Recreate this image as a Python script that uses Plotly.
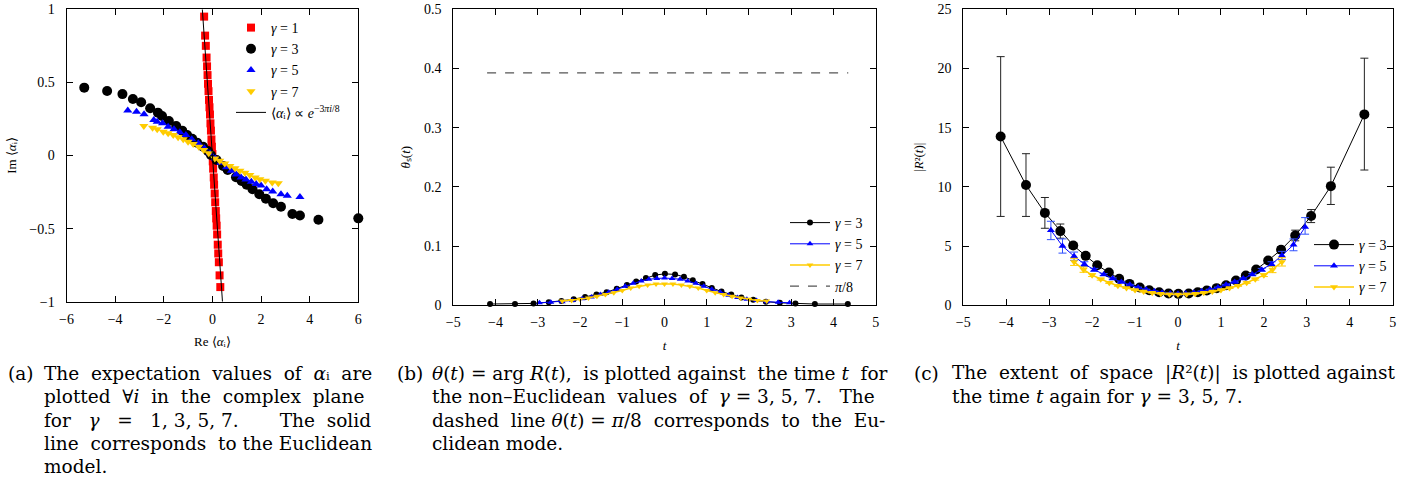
import math
import plotly.graph_objects as go

# ---------------- data: panel (a) ----------------
a1_re = [-0.34, -0.30, -0.27, -0.24, -0.22, -0.20, -0.18, -0.16, -0.14, -0.12, -0.10, -0.08, -0.06, -0.04, -0.02, 0.0,
         0.015, 0.03, 0.055, 0.07, 0.095, 0.115, 0.14, 0.155, 0.175, 0.195, 0.22, 0.24, 0.265, 0.295, 0.325]
a1_im = [0.95, 0.82, 0.75, 0.67, 0.61, 0.55, 0.49, 0.44, 0.38, 0.33, 0.28, 0.22, 0.17, 0.11, 0.06, 0.01,
         -0.04, -0.09, -0.15, -0.20, -0.26, -0.32, -0.38, -0.43, -0.48, -0.54, -0.61, -0.67, -0.73, -0.82, -0.90]
a3_re = [-5.27, -4.33, -3.70, -3.27, -2.93, -2.56, -2.24, -2.07, -1.79, -1.49, -1.24, -1.04, -0.83, -0.63, -0.38, -0.18,
         -0.06, 0.17, 0.44, 0.63, 0.97, 1.20, 1.41, 1.65, 1.93, 2.20, 2.50, 2.82, 3.29, 3.60, 4.36, 6.00]
a3_im = [0.464, 0.441, 0.420, 0.386, 0.364, 0.323, 0.293, 0.270, 0.236, 0.202, 0.170, 0.140, 0.115, 0.088, 0.060, 0.030,
         0.003, -0.031, -0.072, -0.099, -0.149, -0.174, -0.200, -0.231, -0.265, -0.295, -0.327, -0.350, -0.400, -0.410,
         -0.440, -0.430]
a5_re = [-3.48, -3.12, -2.81, -2.41, -2.27, -2.05, -1.82, -1.58, -1.34, -1.09, -0.85, -0.58, -0.33, -0.10, 0.12, 0.35,
         0.58, 0.78, 0.98, 1.18, 1.38, 1.60, 1.80, 2.00, 2.23, 2.48, 2.82, 3.08, 3.60]
a5_im = [0.307, 0.300, 0.282, 0.243, 0.231, 0.220, 0.197, 0.179, 0.159, 0.140, 0.112, 0.083, 0.050, 0.015, -0.020,
         -0.050, -0.080, -0.105, -0.130, -0.150, -0.165, -0.180, -0.195, -0.206, -0.231, -0.247, -0.265, -0.275, -0.284]
a7_re = [-2.82, -2.46, -2.27, -2.02, -1.82, -1.61, -1.41, -1.20, -1.00, -0.79, -0.56, -0.36, -0.15, 0.10, 0.30, 0.51,
         0.72, 0.93, 1.13, 1.34, 1.54, 1.76, 1.95, 2.18, 2.46, 2.71]
a7_im = [0.202, 0.190, 0.179, 0.163, 0.152, 0.140, 0.124, 0.111, 0.094, 0.078, 0.060, 0.037, 0.015, -0.020, -0.036,
         -0.054, -0.072, -0.088, -0.104, -0.118, -0.134, -0.150, -0.163, -0.172, -0.184, -0.190]
euclid_im = [1.0, -1.0]
euclid_angle = 3 * math.pi / 8
euclid_re = [-v / math.tan(euclid_angle) for v in euclid_im]

# ---------------- data: panels (b) and (c) ----------------
t3 = [-4.13, -3.54, -3.10, -2.74, -2.44, -2.15, -1.88, -1.61, -1.37, -1.13, -0.89, -0.67, -0.44, -0.22, 0.01,
      0.25, 0.46, 0.67, 0.90, 1.12, 1.35, 1.58, 1.82, 2.10, 2.40, 2.73, 3.10, 3.56, 4.34]
th3 = [0.002, 0.002, 0.003, 0.005, 0.007, 0.010, 0.014, 0.018, 0.022, 0.028, 0.034, 0.040, 0.046, 0.051, 0.053,
       0.052, 0.048, 0.042, 0.036, 0.029, 0.023, 0.018, 0.013, 0.009, 0.006, 0.004, 0.003, 0.002, 0.002]
R3 = [14.25, 10.15, 7.80, 6.26, 5.05, 4.17, 3.38, 2.76, 2.23, 1.80, 1.49, 1.27, 1.10, 0.99, 0.96,
      0.99, 1.10, 1.24, 1.44, 1.69, 2.09, 2.51, 3.02, 3.78, 4.68, 5.89, 7.53, 10.06, 16.12]
R3_up = [6.75, 2.65, 1.30, 0.60, 0.25, 0.15, 0.10, 0.08, 0.06, 0.05, 0.04, 0.03, 0.03, 0.03, 0.03,
         0.03, 0.03, 0.03, 0.04, 0.05, 0.06, 0.08, 0.10, 0.15, 0.25, 0.45, 0.55, 1.60, 4.75]
R3_dn = [6.75, 2.65, 1.30, 0.60, 0.25, 0.15, 0.10, 0.08, 0.06, 0.05, 0.04, 0.03, 0.03, 0.03, 0.03,
         0.03, 0.03, 0.03, 0.04, 0.05, 0.06, 0.08, 0.10, 0.15, 0.25, 0.45, 0.55, 1.55, 4.70]

t5 = [-2.96, -2.69, -2.42, -2.18, -1.95, -1.73, -1.52, -1.32, -1.12, -0.93, -0.74, -0.55, -0.37, -0.18, 0.00,
      0.18, 0.37, 0.55, 0.74, 0.93, 1.12, 1.32, 1.52, 1.73, 1.95, 2.18, 2.42, 2.69, 2.96]
th5 = [0.004, 0.005, 0.006, 0.008, 0.011, 0.014, 0.018, 0.022, 0.027, 0.032, 0.037, 0.041, 0.044, 0.045, 0.046,
       0.045, 0.044, 0.041, 0.037, 0.032, 0.027, 0.022, 0.017, 0.013, 0.010, 0.008, 0.006, 0.005, 0.004]
R5 = [6.34, 5.00, 4.14, 3.47, 2.99, 2.59, 2.25, 1.97, 1.72, 1.50, 1.32, 1.17, 1.06, 0.99, 0.96,
      0.99, 1.06, 1.17, 1.32, 1.50, 1.72, 1.97, 2.25, 2.59, 2.99, 3.47, 4.20, 5.10, 6.60]
R5_up = [0.75, 0.60, 0.35, 0.20, 0.12, 0.08, 0.06, 0.05, 0.04, 0.03, 0.03, 0.03, 0.03, 0.03, 0.03,
         0.03, 0.03, 0.03, 0.03, 0.03, 0.04, 0.05, 0.06, 0.08, 0.12, 0.20, 0.35, 0.50, 0.80]
R5_dn = [0.80, 0.60, 0.35, 0.20, 0.12, 0.08, 0.06, 0.05, 0.04, 0.03, 0.03, 0.03, 0.03, 0.03, 0.03,
         0.03, 0.03, 0.03, 0.03, 0.03, 0.04, 0.05, 0.06, 0.08, 0.12, 0.20, 0.35, 0.50, 0.60]

t7 = [-2.42, -2.20, -2.00, -1.80, -1.60, -1.40, -1.20, -1.00, -0.80, -0.60, -0.40, -0.20, 0.00,
      0.20, 0.40, 0.60, 0.80, 1.00, 1.20, 1.40, 1.60, 1.80, 2.00, 2.20, 2.42]
th7 = [0.007, 0.008, 0.010, 0.012, 0.015, 0.018, 0.021, 0.025, 0.029, 0.032, 0.034, 0.036, 0.036,
       0.036, 0.034, 0.032, 0.029, 0.025, 0.021, 0.018, 0.015, 0.012, 0.010, 0.008, 0.007]
R7 = [3.66, 3.00, 2.54, 2.20, 1.90, 1.65, 1.45, 1.28, 1.15, 1.05, 0.97, 0.92, 0.90,
      0.92, 0.97, 1.05, 1.15, 1.28, 1.45, 1.65, 1.90, 2.20, 2.54, 3.00, 3.66]
R7_err = [0.30, 0.22, 0.12, 0.08, 0.06, 0.05, 0.04, 0.03, 0.03, 0.03, 0.03, 0.03, 0.03,
          0.03, 0.03, 0.03, 0.03, 0.03, 0.04, 0.05, 0.06, 0.08, 0.12, 0.25, 0.35]

pi8_t = [-4.2, 4.35]
pi8_theta = [math.pi / 8, math.pi / 8]

# ---------------- text ----------------
cap_a = ["The  expectation  values  of  <i>α</i>ᵢ  are",
         "plotted  ∀<i>i</i>  in  the  complex  plane",
         "for   <i>γ</i>   =   1, 3, 5, 7.       The  solid",
         "line  corresponds  to the Euclidean",
         "model."]
cap_b = ["<i>θ</i>(<i>t</i>) = arg <i>R</i>(<i>t</i>),  is plotted against  the time <i>t</i>  for",
         "the non–Euclidean  values  of  <i>γ</i> = 3, 5, 7.   The",
         "dashed  line <i>θ</i>(<i>t</i>) = <i>π</i>/8  corresponds  to  the  Eu-",
         "clidean mode."]
cap_c = ["The  extent  of  space  |<i>R</i>²(<i>t</i>)|  is plotted against",
         "the time <i>t</i> again for <i>γ</i> = 3, 5, 7."]

SERIF = "Liberation Serif"
CAPFONT = "DejaVu Serif"
RED, BLUE, GOLD = "#ff0000", "#0000ff", "#ffcc00"
W, H = 1419, 486

fig = go.Figure()

# panel (a)
fig.add_trace(go.Scatter(x=a1_re, y=a1_im, mode="markers", name="<i>γ</i> = 1", legend="legend",
                         marker=dict(symbol="square", size=8, color=RED), xaxis="x", yaxis="y", cliponaxis=False))
fig.add_trace(go.Scatter(x=a3_re, y=a3_im, mode="markers", name="<i>γ</i> = 3", legend="legend",
                         marker=dict(symbol="circle", size=10, color="black"), xaxis="x", yaxis="y", cliponaxis=False))
fig.add_trace(go.Scatter(x=a5_re, y=a5_im, mode="markers", name="<i>γ</i> = 5", legend="legend",
                         marker=dict(symbol="triangle-up", size=8, color=BLUE), xaxis="x", yaxis="y", cliponaxis=False))
fig.add_trace(go.Scatter(x=a7_re, y=a7_im, mode="markers", name="<i>γ</i> = 7", legend="legend",
                         marker=dict(symbol="triangle-down", size=8, color=GOLD), xaxis="x", yaxis="y", cliponaxis=False))
fig.add_trace(go.Scatter(x=euclid_re, y=euclid_im, mode="lines",
                         name="⟨<i>α</i>ᵢ⟩ ∝ <i>e</i><sup>−3<i>πi</i>/8</sup>", legend="legend",
                         line=dict(color="black", width=1), xaxis="x", yaxis="y"))

# panel (b)
fig.add_trace(go.Scatter(x=t3, y=th3, mode="lines+markers", name="<i>γ</i> = 3", legend="legend2",
                         line=dict(color="black", width=1), marker=dict(symbol="circle", size=6, color="black"),
                         xaxis="x2", yaxis="y2", cliponaxis=False))
fig.add_trace(go.Scatter(x=t5, y=th5, mode="lines+markers", name="<i>γ</i> = 5", legend="legend2",
                         line=dict(color=BLUE, width=1), marker=dict(symbol="triangle-up", size=6, color=BLUE),
                         xaxis="x2", yaxis="y2", cliponaxis=False))
fig.add_trace(go.Scatter(x=t7, y=th7, mode="lines+markers", name="<i>γ</i> = 7", legend="legend2",
                         line=dict(color=GOLD, width=1.5), marker=dict(symbol="triangle-down", size=6, color=GOLD),
                         xaxis="x2", yaxis="y2", cliponaxis=False))
fig.add_trace(go.Scatter(x=pi8_t, y=pi8_theta, mode="lines", name="<i>π</i>/8", legend="legend2",
                         line=dict(color="#555555", width=1.2, dash="dash"), xaxis="x2", yaxis="y2"))

# panel (c)
fig.add_trace(go.Scatter(x=t3, y=R3, mode="lines+markers", name="<i>γ</i> = 3", legend="legend3",
                         line=dict(color="black", width=1), marker=dict(symbol="circle", size=10, color="black"),
                         error_y=dict(type="data", symmetric=False, array=R3_up, arrayminus=R3_dn,
                                      color="#222222", thickness=1, width=4),
                         xaxis="x3", yaxis="y3", cliponaxis=False))
fig.add_trace(go.Scatter(x=t5, y=R5, mode="lines+markers", name="<i>γ</i> = 5", legend="legend3",
                         line=dict(color=BLUE, width=1), marker=dict(symbol="triangle-up", size=7, color=BLUE),
                         error_y=dict(type="data", symmetric=False, array=R5_up, arrayminus=R5_dn,
                                      color="#3050ff", thickness=1, width=4),
                         xaxis="x3", yaxis="y3", cliponaxis=False))
fig.add_trace(go.Scatter(x=t7, y=R7, mode="lines+markers", name="<i>γ</i> = 7", legend="legend3",
                         line=dict(color=GOLD, width=1.5), marker=dict(symbol="triangle-down", size=7, color=GOLD),
                         error_y=dict(type="data", array=R7_err, color=GOLD, thickness=1, width=4),
                         xaxis="x3", yaxis="y3", cliponaxis=False))


def px(v):
    return v / W


def py(v):
    return 1 - v / H


def axis(domain, rng, dtick, title, anchor, standoff, labstand):
    return dict(domain=domain, range=rng, dtick=dtick, tick0=0, ticks="inside", ticklen=6, tickwidth=1,
                tickcolor="black", showline=True, linecolor="black", linewidth=1, mirror="ticks",
                showgrid=False, zeroline=False, automargin=False, fixedrange=True,
                tickfont=dict(family=SERIF, size=14, color="black"), ticklabelstandoff=labstand,
                title=dict(text=title, font=dict(family=SERIF, size=13, color="black"), standoff=standoff),
                anchor=anchor)


ydom = [py(305.2), py(9.3)]
leg_common = dict(bgcolor="rgba(0,0,0,0)", font=dict(family=SERIF, size=14), tracegroupgap=0)
fig.update_layout(
    width=W, height=H, autosize=False, template="none",
    margin=dict(l=0, r=0, t=0, b=0),
    paper_bgcolor="white", plot_bgcolor="white",
    font=dict(family=SERIF, size=14, color="black"),
    xaxis=axis([px(66.5), px(358.3)], [-6, 6], 2, "Re ⟨<i>α</i>ᵢ⟩", "y", 11, 4),
    yaxis=axis([py(301.7), py(9.3)], [-1, 1], 0.5, "Im ⟨<i>α</i>ᵢ⟩", "x", 9, 8),
    xaxis2=axis([px(453.3), px(875.7)], [-5, 5], 1, "<i>t</i>", "y2", 11, 4),
    yaxis2=axis(ydom, [0, 0.5], 0.1, "<i>θ</i>ₛ(<i>t</i>)", "x2", 10, 8),
    xaxis3=axis([px(963.3), px(1392.7)], [-5, 5], 1, "<i>t</i>", "y3", 11, 4),
    yaxis3=axis(ydom, [0, 25], 5, "|<i>R</i>²(<i>t</i>)|", "x3", 10, 8),
    legend=dict(x=px(345), xanchor="right", y=py(12), yanchor="top", itemwidth=30, **leg_common),
    legend2=dict(x=px(868), xanchor="right", y=py(302), yanchor="bottom", itemwidth=40, **leg_common),
    legend3=dict(x=px(1392), xanchor="right", y=py(303), yanchor="bottom", itemwidth=40, **leg_common),
    showlegend=True,
)

# captions
cap_font = dict(family=CAPFONT, size=18.5, color="black")
line_y = [373, 396.5, 420, 443, 466]
blocks = [("(a)", 6, 42, cap_a), ("(b)", 395, 430, cap_b), ("(c)", 912, 950, cap_c)]
for label, xl, xt, lines in blocks:
    fig.add_annotation(text=label, x=px(xl), y=py(line_y[0]), xref="paper", yref="paper",
                       xanchor="left", yanchor="middle", showarrow=False, font=cap_font)
    for i, ln in enumerate(lines):
        fig.add_annotation(text=ln, x=px(xt), y=py(line_y[i]), xref="paper", yref="paper",
                           xanchor="left", yanchor="middle", showarrow=False, font=cap_font)

fig.write_html("out.html")
